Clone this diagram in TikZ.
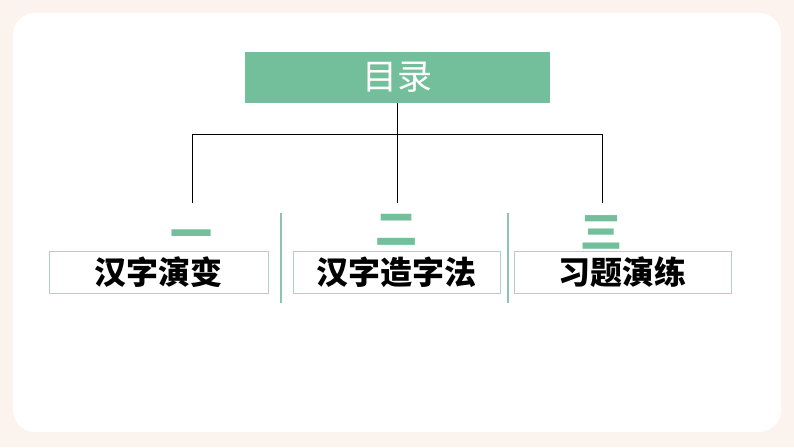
\documentclass[tikz,border=0pt]{standalone}
\usepackage{fontspec}
\newfontfamily\cjk{Noto Sans CJK SC}
\usetikzlibrary{positioning}
\definecolor{mulugreen}{HTML}{74BF9B}
\definecolor{boxline}{HTML}{A9D3C5}
\definecolor{sepline}{HTML}{8CC4AE}
\definecolor{paper}{HTML}{FDF3EE}
\tikzset{
    titlebox/.style={fill=mulugreen, text=white, minimum width=305pt, minimum height=51pt, inner sep=0pt, font=\cjk\fontsize{35}{35}\selectfont},
    numeral/.style={text=mulugreen, inner sep=0pt, font=\cjk\bfseries\fontsize{42}{42}\selectfont},
    itembox/.style={draw=boxline, line width=0.8pt, minimum height=42pt, inner sep=0pt, font=\cjk\bfseries\fontsize{32}{32}\selectfont},
    branch/.style={line width=1pt, black},
    separator/.style={line width=1.2pt, sepline}
}
\begin{document}
\begin{tikzpicture}[x=1pt, y=-1pt]
            \useasboundingbox (0,0) rectangle (794,447);
            \fill[paper] (0,0) rectangle (794,447);
            \fill[white, rounded corners=22pt] (13,13) rectangle (781,432);
            \node[titlebox] (title) at (397,77.5) {目录};
            \coordinate (hub) at (397,134);
            \coordinate (dropA) at (192,203);
            \coordinate (dropB) at (397,203);
            \coordinate (dropC) at (602,203);
            \draw[branch] (title.south) -- (hub);
            \draw[branch] (hub) -| (dropA);
            \draw[branch] (hub) -| (dropC);
            \draw[branch] (hub) -- (dropB);
            \node[numeral] (numA) at (191,240) {一};
            \node[numeral] (numB) at (396,230) {二};
            \node[numeral] (numC) at (601,232) {三};
            \node[itembox, minimum width=219pt] (itemA) at (158.5,272) {汉字演变};
            \node[itembox, minimum width=207pt] (itemB) at (396.5,272) {汉字造字法};
            \node[itembox, minimum width=217pt] (itemC) at (622.5,272) {习题演练};
            \coordinate (sepAtop) at (281,213);
            \coordinate (sepAbot) at (281,303);
            \coordinate (sepBtop) at (508,213);
            \coordinate (sepBbot) at (508,303);
            \draw[separator] (sepAtop) -- (sepAbot);
            \draw[separator] (sepBtop) -- (sepBbot);
        \end{tikzpicture}
\end{document}
